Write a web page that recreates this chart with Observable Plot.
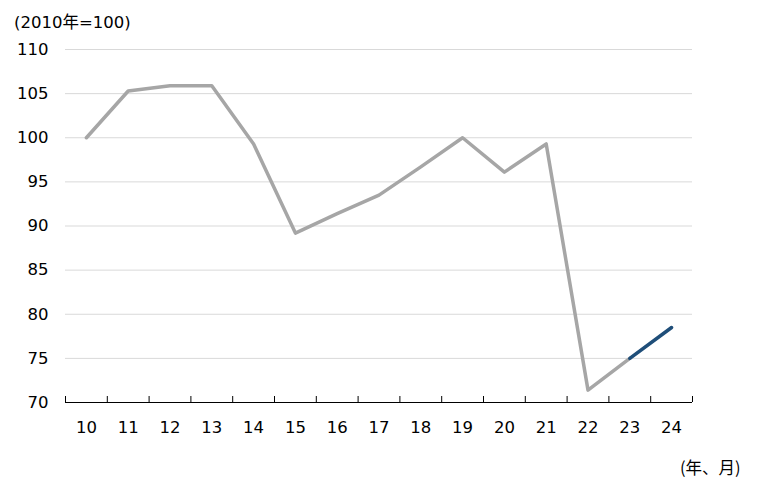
<!DOCTYPE html>
<html>
<head>
<meta charset="utf-8">
<script src="https://cdn.jsdelivr.net/npm/d3@7"></script>
<script src="https://cdn.jsdelivr.net/npm/@observablehq/plot@0.6"></script>
<style>
  html, body { margin: 0; padding: 0; background: #fff; }
  #wrap { position: relative; width: 758px; height: 492px; font-family: "DejaVu Sans", "Noto Sans CJK JP", sans-serif; color: #000; }
  #unit { position: absolute; left: 14px; top: 13px; font-size: 16.5px; line-height: 20px; white-space: nowrap; }
  #xunit { position: absolute; left: 680px; top: 457px; font-size: 16.5px; line-height: 20px; white-space: nowrap; font-family: "Noto Sans CJK JP", "DejaVu Sans", sans-serif; }
  svg { position: absolute; left: 0; top: 0; }
</style>
</head>
<body>
<div id="wrap">
  <div id="chart"></div>
  <div id="unit">(2010年=100)</div>
  <div id="xunit">(年、月)</div>
</div>
<script>
// Data (x labels: two-digit years; values: index, 2010 = 100)
const years = [10, 11, 12, 13, 14, 15, 16, 17, 18, 19, 20, 21, 22, 23, 24];
const values = [100.0, 105.3, 105.9, 105.9, 99.3, 89.2, 91.4, 93.5, 96.7, 100.0, 96.1, 99.3, 71.4, 75.0, 78.5];
const highlightFrom = 23; // segment from here onward drawn in navy
const yTicks = [70, 75, 80, 85, 90, 95, 100, 105, 110];

const data = years.map((y, i) => ({year: y, value: values[i]}));
const grayData = data.filter(d => d.year <= highlightFrom);
const navyData = data.filter(d => d.year >= highlightFrom);
const bounds = d3.range(years[0] - 0.5, years[years.length - 1] + 1, 1);

const W = 758, H = 492, mt = 49, mb = 90;
const chart = Plot.plot({
  width: W,
  height: H,
  marginLeft: 65,
  marginRight: 66,
  marginTop: mt,
  marginBottom: mb,
  style: {fontSize: "16.5px", fontFamily: "'DejaVu Sans', sans-serif", color: "#000", background: "transparent"},
  x: {type: "linear", domain: [years[0] - 0.5, years[years.length - 1] + 0.5]},
  y: {domain: [70, 110]},
  marks: [
    Plot.gridY(yTicks.filter(t => t > 70), {stroke: "#D9D9D9", strokeOpacity: 1, strokeWidth: 1}),
    Plot.axisY(yTicks, {tickSize: 0, tickPadding: 17, label: null, fontSize: 16.5}),
    Plot.axisX(years, {tickSize: 0, tickPadding: 19, label: null, fontSize: 16.5, tickFormat: d => String(d)}),
    Plot.ruleY([70], {stroke: "#000", strokeWidth: 1}),
    Plot.tickX(bounds, {x: d => d, stroke: "#000", strokeWidth: 1, insetTop: (H - mt - mb) - 6}),
    Plot.line(grayData, {x: "year", y: "value", stroke: "#A6A6A6", strokeWidth: 3.5, strokeLinejoin: "round", strokeLinecap: "round"}),
    Plot.line(navyData, {x: "year", y: "value", stroke: "#1F4E79", strokeWidth: 3.5, strokeLinejoin: "round", strokeLinecap: "round"})
  ]
});
document.getElementById("chart").appendChild(chart);
</script>
</body>
</html>
